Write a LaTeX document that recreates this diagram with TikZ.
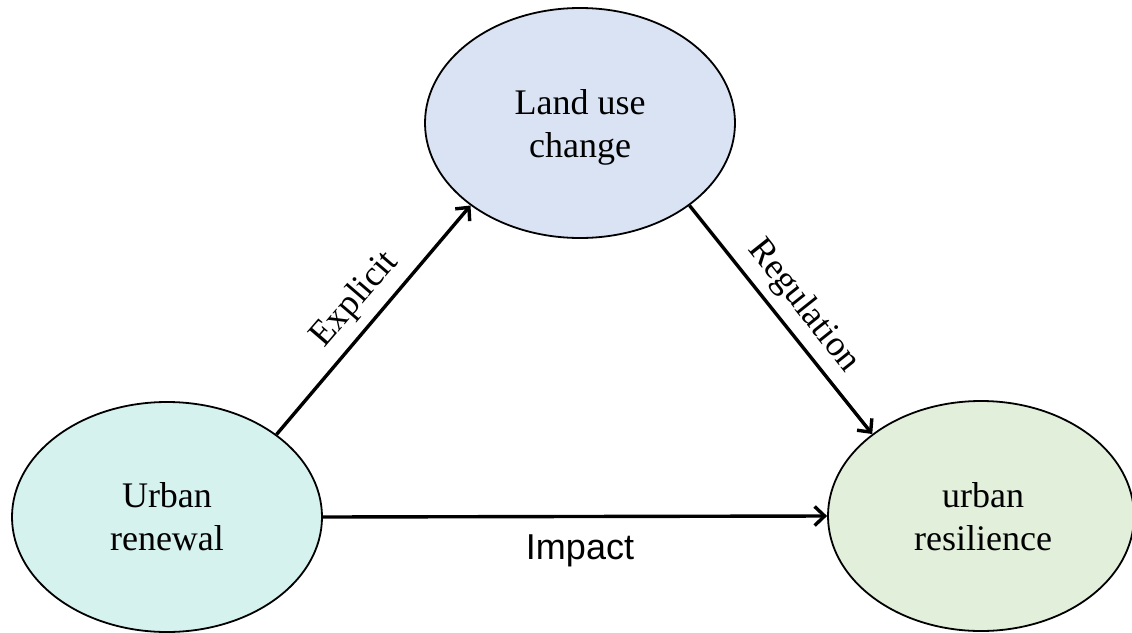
\documentclass[tikz,border=0pt]{standalone}
\usepackage{fontspec}
\setmainfont{Liberation Serif}
\newfontfamily\labsans{Liberation Sans}
\usetikzlibrary{shapes.geometric,arrows.meta}
\definecolor{topfill}{RGB}{218,227,243}
\definecolor{leftfill}{RGB}{213,242,239}
\definecolor{rightfill}{RGB}{226,239,218}
\tikzset{
  oval/.style={ellipse, draw=black, line width=1.8pt, inner sep=0pt,
    minimum width=310pt, minimum height=230pt},
  ovaltext/.style={align=center, inner sep=0pt, font=\fontsize{36}{43}\selectfont},
  conn/.style={line width=3.4pt, -{Straight Barb[length=10pt,width=19pt,line width=3.4pt]}},
  lab/.style={inner sep=0pt, font=\fontsize{36}{43}\selectfont}
}
\begin{document}
\begin{tikzpicture}[x=1pt,y=-1pt]
\useasboundingbox (0,0) rectangle (1132,632);
\node[oval, fill=topfill] (T) at (580,123) {};
\node[oval, fill=leftfill] (L) at (167,517) {};
\node[oval, fill=rightfill, minimum width=306pt] (R) at (981,516) {};
\node[ovaltext] (Tt) at (580,127) {Land use\\change};
\node[ovaltext] (Lt) at (167,517) {Urban\\renewal};
\node[ovaltext] (Rt) at (983,517) {urban\\resilience};
\draw[conn] (L.37) -- (T.217.7);
\draw[conn] (T.-37.4) -- (R.143.2);
\draw[conn] (L.east) -- (R.west);
\node[lab, rotate=49.3] (e) at (355,300) {Explicit};
\node[lab, rotate=-51.5] (r) at (803,306) {Regulation};
\node[lab, font=\labsans\fontsize{36}{43}\selectfont, anchor=base] (i) at (580,559) {Impact};
\end{tikzpicture}
\end{document}
